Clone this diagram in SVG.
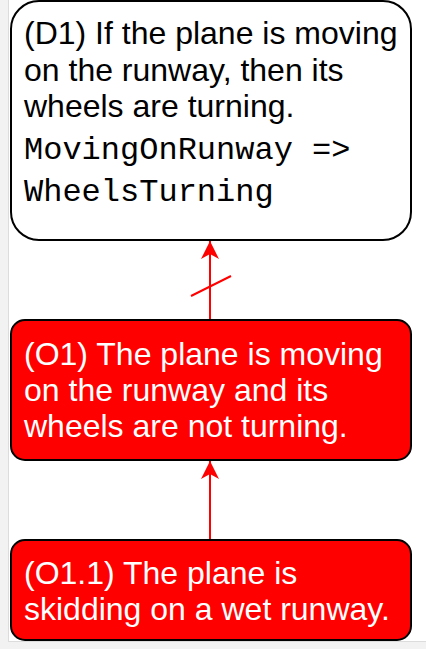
<svg xmlns="http://www.w3.org/2000/svg" width="426" height="649" viewBox="0 0 426 649">
<defs>
<style>
.box{stroke:#000;stroke-width:2}
.w{fill:#fff}
.r{fill:#ff0000}
.t{font-family:"Liberation Sans",Arial,sans-serif;font-size:32px}
.m{font-family:"Liberation Mono","Courier New",monospace;font-size:32px}
.conn{stroke:#ff0000;stroke-width:2;fill:none}
</style>
<marker id="ah" markerUnits="userSpaceOnUse" markerWidth="20" markerHeight="20" viewBox="0 0 20 20" refX="18" refY="10" orient="auto">
<path d="M18,10 L0,1 L5,10 L0,19 Z" fill="#ff0000"/>
</marker>
</defs>
<rect x="0" y="0" width="426" height="649" fill="#f2f2f2"/>
<rect x="8.5" y="-1" width="420" height="642.5" fill="#fff" stroke="#dcdcdc" stroke-width="1"/>
<g id="connectors">
<line class="conn" x1="210" y1="320" x2="210" y2="241" marker-end="url(#ah)"/>
<line class="conn" x1="191" y1="296" x2="231" y2="276"/>
<line class="conn" x1="210" y1="540" x2="210" y2="461" marker-end="url(#ah)"/>
</g>
<g id="D1">
<rect class="box w" x="11" y="1" width="400" height="239" rx="28" ry="28"/>
<text class="t" fill="#000"><tspan x="24" y="44">(D1) If the plane is moving</tspan><tspan x="24" y="81">on the runway, then its</tspan><tspan x="24" y="117">wheels are turning.</tspan></text>
<text class="m" fill="#000"><tspan x="24" y="159">MovingOnRunway =&gt;</tspan><tspan x="24" y="201">WheelsTurning</tspan></text>
</g>
<g id="O1">
<rect class="box r" x="11" y="320" width="400" height="140" rx="14" ry="14"/>
<text class="t" fill="#fff"><tspan x="24" y="365">(O1) The plane is moving</tspan><tspan x="24" y="401">on the runway and its</tspan><tspan x="24" y="437">wheels are not turning.</tspan></text>
</g>
<g id="O1.1">
<rect class="box r" x="11" y="540" width="400" height="100" rx="14" ry="14"/>
<text class="t" fill="#fff"><tspan x="24" y="584">(O1.1) The plane is</tspan><tspan x="24" y="620">skidding on a wet runway.</tspan></text>
</g>
</svg>
